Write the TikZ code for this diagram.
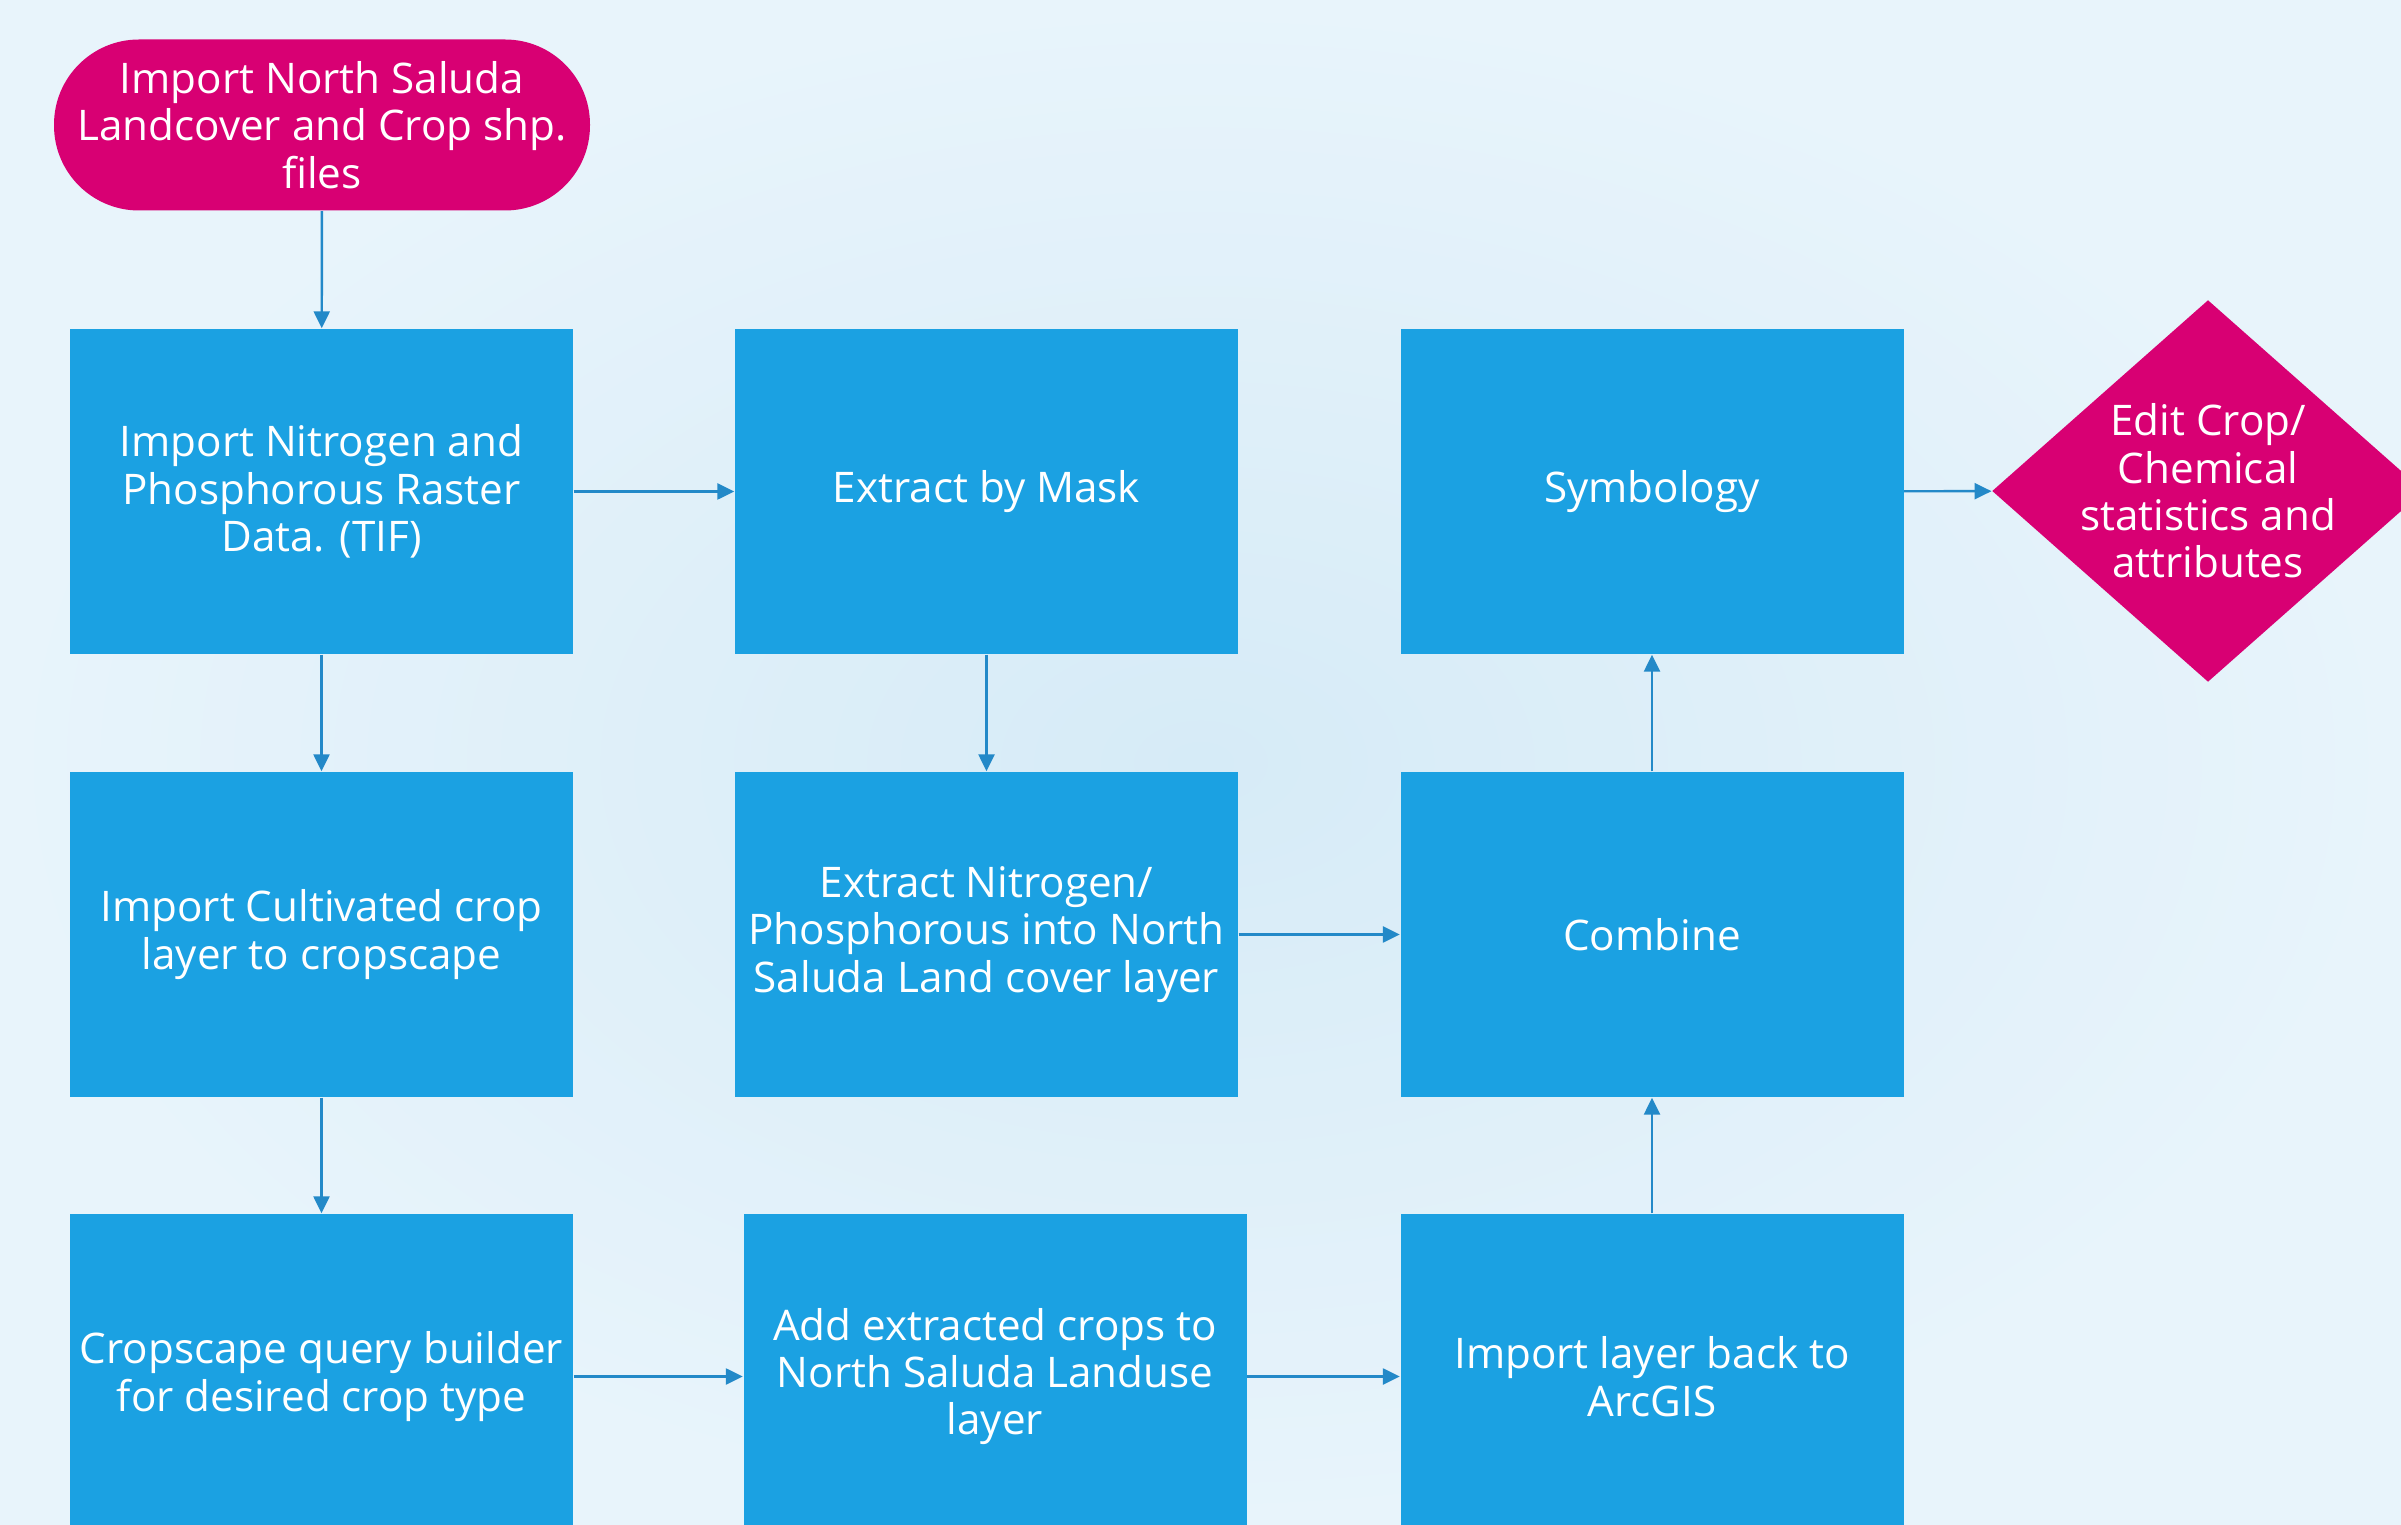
\documentclass[tikz,border=0pt]{standalone}
\usepackage{fontspec}
\setmainfont{Open Sans}
\usetikzlibrary{arrows.meta, positioning, shapes.geometric}

\definecolor{bginner}{HTML}{D6EBF7}
\definecolor{bgouter}{HTML}{E8F4FB}
\definecolor{boxblue}{HTML}{1BA1E2}
\definecolor{flowpink}{HTML}{D80073}
\definecolor{linkblue}{HTML}{2389C8}

\begin{document}
\begin{tikzpicture}[
    proc/.style   = {fill=boxblue, minimum width=5.03cm, minimum height=3.25cm, inner sep=2pt,
                     align=center, text=white, font=\fontsize{12}{13.5}\selectfont},
    term/.style   = {fill=flowpink, rounded corners=8.5mm, minimum width=5.36cm, minimum height=1.71cm,
                     inner sep=1pt, align=center, text=white, font=\fontsize{12}{13.5}\selectfont},
    choice/.style = {diamond, aspect=1.131, fill=flowpink, minimum width=4.32cm, minimum height=3.82cm,
                     inner sep=-0.6mm, align=center, text=white, font=\fontsize{12}{13.5}\selectfont},
    flow/.style   = {-{Triangle[length=1.7mm, width=1.6mm]}, draw=linkblue, line width=0.7pt}
  ]
  % page and background (bottom row runs off the page)
  \useasboundingbox (0,0) rectangle (24.01,-15.25);
  \clip (0,0) rectangle (24.01,-15.25);
  \shade[inner color=bginner, outer color=bgouter] (0,0) rectangle (24.01,-15.25);

  % columns and rows
  \def\ca{3.215}
  \def\cb{9.865}
  \def\cc{16.52}
  \def\ra{-4.915}
  \def\rb{-9.345}
  \def\rc{-13.765}

  \node[term] (start) at (3.22,-1.25) {Import North Saluda\\Landcover and Crop shp.\\files};

  \node[proc] (raster)  at (\ca,\ra) {Import Nitrogen and\\Phosphorous Raster\\Data. (TIF)};
  \node[proc] (mask)    at (\cb,\ra) {Extract by Mask};
  \node[proc] (symb)    at (\cc,\ra) {Symbology};

  \node[proc] (cult)    at (\ca,\rb) {Import Cultivated crop\\layer to cropscape};
  \node[proc] (extract) at (\cb,\rb) {Extract Nitrogen/\\Phosphorous into North\\Saluda Land cover layer};
  \node[proc] (combine) at (\cc,\rb) {Combine};

  \node[proc] (query)   at (\ca,\rc) {Cropscape query builder\\for desired crop type};
  \node[proc] (addcrop) at (9.95,\rc) {Add extracted crops to\\North Saluda Landuse\\layer};
  \node[proc] (arcgis)  at (\cc,\rc) {Import layer back to\\ArcGIS};

  \node[choice] (edit) at (22.08,-4.91) {Edit Crop/\\Chemical\\statistics and\\attributes};

  % connectors
  \draw[flow] (start)   -- (raster);
  \draw[flow] (raster)  -- (mask);
  \draw[flow] (raster)  -- (cult);
  \draw[flow] (cult)    -- (query);
  \draw[flow] (mask)    -- (extract);
  \draw[flow] (query)   -- (addcrop);
  \draw[flow] (addcrop) -- (arcgis);
  \draw[flow] (extract) -- (combine);
  \draw[flow] (arcgis)  -- (combine);
  \draw[flow] (combine) -- (symb);
  \draw[flow] (symb)    -- (edit);
\end{tikzpicture}
\end{document}
